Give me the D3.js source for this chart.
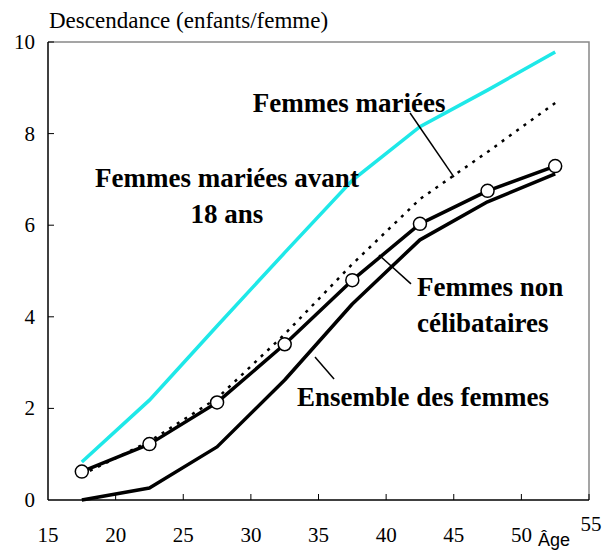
<!DOCTYPE html>
<html>
<head><meta charset="utf-8"><script src="https://cdn.jsdelivr.net/npm/d3@7"></script></head>
<body style="margin:0">
<script>
// ages (mid-point of 5-year groups)
const ages = [17.5, 22.5, 27.5, 32.5, 37.5, 42.5, 47.5, 52.5];
const marieesAvant18 = [0.83, 2.18, 3.8, 5.4, 6.98, 8.15, 8.95, 9.78];
const mariees = [0.55, 1.28, 2.22, 3.62, 5.15, 6.57, 7.6, 8.67];
const nonCelibataires = [0.62, 1.22, 2.13, 3.4, 4.8, 6.03, 6.75, 7.29];
const ensemble = [0, 0.26, 1.16, 2.62, 4.28, 5.68, 6.51, 7.12];
const xTicks = [15, 20, 25, 30, 35, 40, 45, 50, 55];
const yTicks = [0, 2, 4, 6, 8, 10];

const W = 602, H = 553;
const margin = { top: 42, right: 13, bottom: 53, left: 48 };

const svg = d3.select('body').append('svg').attr('width', W).attr('height', H);

const x = d3.scaleLinear().domain([15, 55]).range([margin.left, W - margin.right]);
const y = d3.scaleLinear().domain([0, 10]).range([H - margin.bottom, margin.top]);

// frame: grey top / right
svg.append('path')
    .attr('d', `M ${x(15)} ${y(10)} L ${x(55)} ${y(10)} L ${x(55)} ${y(0)}`)
    .attr('fill', 'none')
    .attr('stroke', '#888')
    .attr('stroke-width', 1.5);

// axes drawn from the scales
svg.append('line')
    .attr('x1', x(15)).attr('x2', x(55)).attr('y1', y(0)).attr('y2', y(0))
    .attr('stroke', '#000').attr('stroke-width', 1.5);
svg.append('line')
    .attr('x1', x(15)).attr('x2', x(15)).attr('y1', y(0)).attr('y2', y(10))
    .attr('stroke', '#000').attr('stroke-width', 1.5);
svg.selectAll('line.xt').data(xTicks.slice(1)).enter().append('line')
    .attr('x1', d => x(d)).attr('x2', d => x(d))
    .attr('y1', y(0)).attr('y2', y(0) - 6)
    .attr('stroke', '#000').attr('stroke-width', 1);
svg.selectAll('line.yt').data(yTicks.slice(1)).enter().append('line')
    .attr('x1', x(15)).attr('x2', x(15) + 6)
    .attr('y1', d => y(d)).attr('y2', d => y(d))
    .attr('stroke', '#000').attr('stroke-width', 1);

svg.selectAll('text.ylab').data(yTicks).enter().append('text')
    .attr('font-family', 'Liberation Serif')
    .style('font-size', '21px')
    .attr('text-anchor', 'end')
    .attr('x', x(15) - 13)
    .attr('y', d => y(d) + 7)
    .text(d => d);

svg.selectAll('text.xlab').data(xTicks).enter().append('text')
    .attr('font-family', 'Liberation Serif')
    .style('font-size', '21px')
    .attr('text-anchor', 'middle')
    .attr('x', d => x(d) + (d === 55 ? 2 : 0))
    .attr('y', d => d === 55 ? y(0) + 31 : y(0) + 42)
    .text(d => d);

svg.append('text')
    .attr('font-family', 'Liberation Serif')
    .attr('x', x(15) + 1)
    .attr('y', 28)
    .style('font-size', '23px')
    .text('Descendance (enfants/femme)');

svg.append('text')
    .attr('x', 538)
    .attr('y', 546)
    .attr('font-family', 'Liberation Sans')
    .style('font-size', '18px')
    .text('Âge');

// series
const line = d3.line().x((d, i) => x(ages[i])).y(d => y(d));

svg.append('path').datum(marieesAvant18)
    .attr('d', line).attr('fill', 'none')
    .attr('stroke', '#1ee8e8').attr('stroke-width', 3.5);

svg.append('path').datum(mariees)
    .attr('d', line).attr('fill', 'none')
    .attr('stroke', '#000').attr('stroke-width', 2.5)
    .attr('stroke-dasharray', '3,6');

svg.append('path').datum(ensemble)
    .attr('d', line).attr('fill', 'none')
    .attr('stroke', '#000').attr('stroke-width', 3.5)
    .attr('stroke-linejoin', 'round');

svg.append('path').datum(nonCelibataires)
    .attr('d', line).attr('fill', 'none')
    .attr('stroke', '#000').attr('stroke-width', 3.5)
    .attr('stroke-linejoin', 'round');

svg.selectAll('circle.pt').data(nonCelibataires).enter().append('circle')
    .attr('cx', (d, i) => x(ages[i]))
    .attr('cy', d => y(d))
    .attr('r', 6.5)
    .attr('fill', '#fff')
    .attr('stroke', '#000')
    .attr('stroke-width', 1.5);

// leader lines (data units)
const leaders = [
  [41.77, 8.45, 45.02, 7.05],
  [39.47, 5.35, 41.84, 4.72],
  [34.74, 3.12, 36.15, 2.64]
];
svg.selectAll('line.leader').data(leaders).enter().append('line')
    .attr('x1', d => x(d[0])).attr('y1', d => y(d[1]))
    .attr('x2', d => x(d[2])).attr('y2', d => y(d[3]))
    .attr('stroke', '#000').attr('stroke-width', 1.5);

const notesTxt = [
  { t: 'Femmes mariées', a: 37.26, v: 8.47, anchor: 'middle' },
  { t: 'Femmes mariées avant', a: 28.23, v: 6.83, anchor: 'middle' },
  { t: '18 ans', a: 28.23, v: 6.05, anchor: 'middle' },
  { t: 'Femmes non', a: 42.28, v: 4.45, anchor: 'start' },
  { t: 'célibataires', a: 42.28, v: 3.67, anchor: 'start' },
  { t: 'Ensemble des femmes', a: 33.41, v: 2.05, anchor: 'start' }
];
svg.selectAll('text.note').data(notesTxt).enter().append('text')
    .attr('font-family', 'Liberation Serif')
    .style('font-size', '27px')
    .style('font-weight', 'bold')
    .attr('text-anchor', d => d.anchor)
    .attr('x', d => x(d.a))
    .attr('y', d => y(d.v))
    .text(d => d.t);
</script>
</body>
</html>
